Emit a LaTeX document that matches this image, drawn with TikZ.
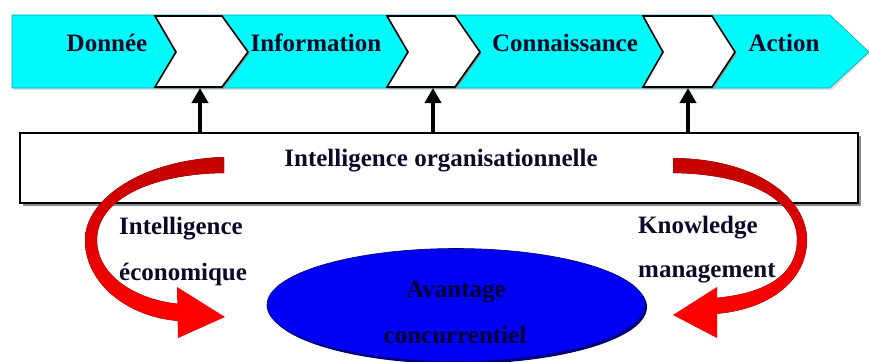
\documentclass[tikz,border=0pt]{standalone}
\usepackage{fontspec}
\setmainfont{Liberation Serif}
\usetikzlibrary{arrows.meta,shapes.geometric}
\definecolor{bandcyan}{RGB}{0,250,250}
\definecolor{bandedge}{RGB}{0,170,180}
\definecolor{txt}{RGB}{10,10,40}
\definecolor{darkred}{RGB}{195,0,0}
\definecolor{brightred}{RGB}{255,0,0}
\definecolor{ellblue}{RGB}{0,0,245}
\definecolor{elledge}{RGB}{0,0,120}
\definecolor{elltxt}{RGB}{0,0,50}
\begin{document}
\begin{tikzpicture}[x=1pt,y=-1pt,
  lbl/.style={font=\fontsize{25}{28}\selectfont\bfseries, inner sep=0pt, text=txt},
  chevron/.style={fill=white, draw=black, line width=1.6pt, line join=miter},
  chevshadow/.style={fill=black!45, draw=none},
  uparrow/.style={draw=black, line width=4.5pt, -{Triangle[width=16pt,length=15pt]}},
  redshaft/.style={draw=none, top color=darkred, bottom color=brightred},
  redhead/.style={fill=brightred, draw=none}]
\useasboundingbox (0,0) rectangle (869,361);

% cyan band
\fill[black!12] (14,17) -- (832,17) -- (869,54) -- (832,90) -- (14,90) -- cycle;
\filldraw[fill=bandcyan, draw=bandedge, line width=0.6pt]
  (12,15) -- (830,15) -- (869,52) -- (830,88) -- (12,88) -- cycle;

% chevrons
\foreach \a/\b/\n/\t [count=\i] in {155/222/176/248, 387/455/408/480, 643/712/663/735}{
  \fill[chevshadow] (\a+1.5,17.5) -- (\b+1.5,17.5) -- (\t+1.5,53.5) -- (\b+1.5,88.5) -- (\a+1.5,88.5) -- (\n+1.5,53.5) -- cycle;
  \draw[chevron] (\a,16) -- (\b,16) -- (\t,52) -- (\b,87) -- (\a,87) -- (\n,52) -- cycle;
}
\coordinate (c1) at (200,88);
\coordinate (c2) at (433,88);
\coordinate (c3) at (688,88);

% band labels
\node[lbl] (donnee) at (107,43) {Donnée};
\node[lbl] (info) at (316,43) {Information};
\node[lbl] (conn) at (565,43) {Connaissance};
\node[lbl] (action) at (784,43) {Action};

% box
\fill[black!45] (23,136) rectangle (861,206);
\node[draw=black, fill=white, line width=2.5pt, minimum width=838pt, minimum height=70pt, inner sep=0pt] (box) at (439,168) {};
\node[lbl] (io) at (441,161) {Intelligence organisationnelle};

% up arrows
\draw[uparrow] (box.north -| c1) -- (c1);
\draw[uparrow] (box.north -| c2) -- (c2);
\draw[uparrow] (box.north -| c3) -- (c3);

% ellipse
\fill[elledge] (458,307) ellipse [x radius=189, y radius=57];
\node[ellipse, fill=ellblue, draw=elledge, line width=0.6pt, minimum width=378pt, minimum height=113pt, inner sep=0pt] (adv) at (456,305) {};
\node[lbl, text=elltxt] (av1) at (456,292) {Avantage};
\node[lbl, text=elltxt] (av2) at (455,335) {concurrentiel};

% side labels
\node[lbl, anchor=west] (ie1) at (119,229) {Intelligence};
\node[lbl, anchor=west] (ie2) at (119,274) {économique};
\node[lbl, anchor=west] (km1) at (638,228) {Knowledge};
\node[lbl, anchor=west] (km2) at (638,273) {management};

% left red arrow
\fill[redshaft] (224,157) .. controls (140,160) and (85,200) .. (85,240)
  .. controls (85,285) and (130,318) .. (180,321)
  -- (180,304) .. controls (135,300) and (97,275) .. (97,240)
  .. controls (97,200) and (150,174) .. (224,173) -- cycle;
\fill[redhead] (177,287) -- (225,317) -- (178,338) -- cycle;

% right red arrow
\fill[redshaft] (673,158) .. controls (760,159) and (807,200) .. (807,240)
  .. controls (807,280) and (770,310) .. (714,314)
  -- (714,298) .. controls (765,294) and (797,275) .. (797,240)
  .. controls (797,200) and (750,174) .. (673,173) -- cycle;
\fill[redhead] (717,287) -- (673,315) -- (717,338) -- cycle;
\end{tikzpicture}
\end{document}
